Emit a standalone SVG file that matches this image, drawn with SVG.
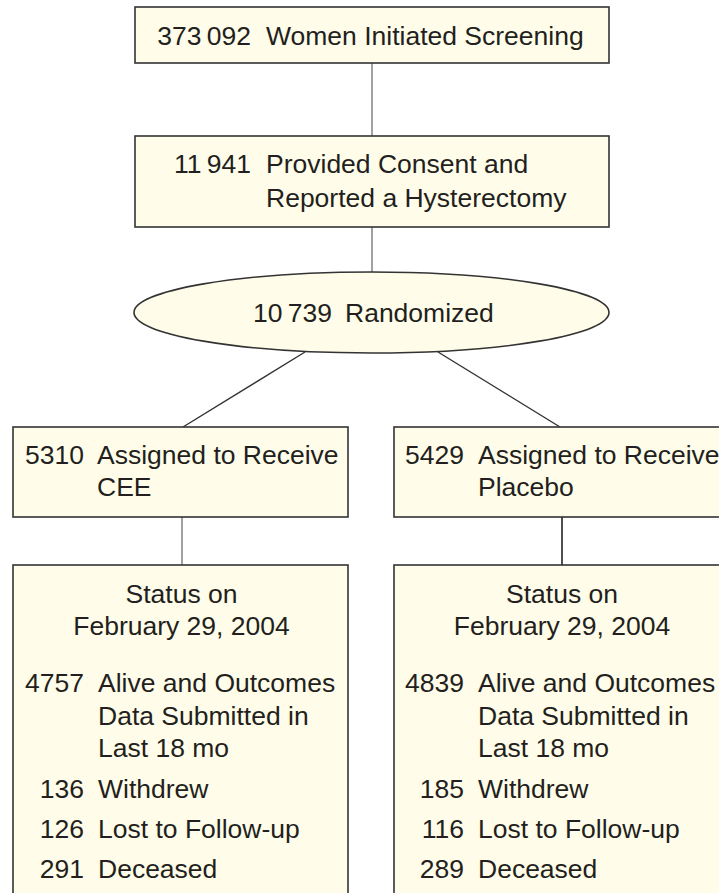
<svg xmlns="http://www.w3.org/2000/svg" width="719" height="893" viewBox="0 0 719 893">
<style>
  .box { fill: #fffde9; stroke: #333333; stroke-width: 1.6; }
  .t { font-family: "Liberation Sans", Arial, sans-serif; font-size: 26.5px; fill: #231f20; }
  .n { text-anchor: end; }
  .c { text-anchor: middle; }
  .gray { stroke: #8a8a8a; stroke-width: 1.6; fill: none; }
  .dark { stroke: #333333; stroke-width: 1.4; fill: none; }
  .black { stroke: #222222; stroke-width: 1.6; fill: none; }
</style>
<rect width="719" height="893" fill="#ffffff"/>
<g id="connectors">
  <line class="gray" x1="372" y1="63" x2="372" y2="136"/>
  <line class="gray" x1="372" y1="227" x2="372" y2="272"/>
  <line class="dark" x1="305" y1="352" x2="183" y2="427"/>
  <line class="dark" x1="438" y1="352" x2="560" y2="427"/>
  <line class="gray" x1="182" y1="517" x2="182" y2="565"/>
  <line class="black" x1="562" y1="517" x2="562" y2="565"/>
</g>
<g id="screening">
  <rect class="box" x="135" y="7" width="474" height="56"/>
  <text class="t n" x="251" y="45">373&#8201;092</text>
  <text class="t" x="266" y="45">Women Initiated Screening</text>
</g>
<g id="consent">
  <rect class="box" x="135" y="136" width="474" height="91"/>
  <text class="t n" x="251" y="173">11&#8201;941</text>
  <text class="t" x="266" y="173">Provided Consent and</text>
  <text class="t" x="266" y="207">Reported a Hysterectomy</text>
</g>
<g id="randomized">
  <ellipse class="box" cx="371.5" cy="312.5" rx="237.5" ry="40.5"/>
  <text class="t n" x="332" y="322">10&#8201;739</text>
  <text class="t" x="345" y="322">Randomized</text>
</g>
<g id="cee">
  <rect class="box" x="13" y="427" width="335" height="90"/>
  <text class="t n" x="84" y="464">5310</text>
  <text class="t" x="97" y="464">Assigned to Receive</text>
  <text class="t" x="97" y="496">CEE</text>
</g>
<g id="placebo">
  <rect class="box" x="394" y="427" width="345" height="90"/>
  <text class="t n" x="464" y="464">5429</text>
  <text class="t" x="478" y="464">Assigned to Receive</text>
  <text class="t" x="478" y="496">Placebo</text>
</g>
<g id="status-cee">
  <rect class="box" x="13" y="565" width="335" height="345"/>
  <text class="t c" x="181.5" y="603">Status on</text>
  <text class="t c" x="181.5" y="635">February 29, 2004</text>
  <text class="t n" x="84" y="692">4757</text>
  <text class="t" x="98" y="692">Alive and Outcomes</text>
  <text class="t" x="98" y="725">Data Submitted in</text>
  <text class="t" x="98" y="757">Last 18 mo</text>
  <text class="t n" x="84" y="798">136</text>
  <text class="t" x="98" y="798">Withdrew</text>
  <text class="t n" x="84" y="838">126</text>
  <text class="t" x="98" y="838">Lost to Follow-up</text>
  <text class="t n" x="84" y="878">291</text>
  <text class="t" x="98" y="878">Deceased</text>
</g>
<g id="status-placebo">
  <rect class="box" x="394" y="565" width="345" height="345"/>
  <text class="t c" x="562" y="603">Status on</text>
  <text class="t c" x="562" y="635">February 29, 2004</text>
  <text class="t n" x="464" y="692">4839</text>
  <text class="t" x="478" y="692">Alive and Outcomes</text>
  <text class="t" x="478" y="725">Data Submitted in</text>
  <text class="t" x="478" y="757">Last 18 mo</text>
  <text class="t n" x="464" y="798">185</text>
  <text class="t" x="478" y="798">Withdrew</text>
  <text class="t n" x="464" y="838">116</text>
  <text class="t" x="478" y="838">Lost to Follow-up</text>
  <text class="t n" x="464" y="878">289</text>
  <text class="t" x="478" y="878">Deceased</text>
</g>
</svg>
